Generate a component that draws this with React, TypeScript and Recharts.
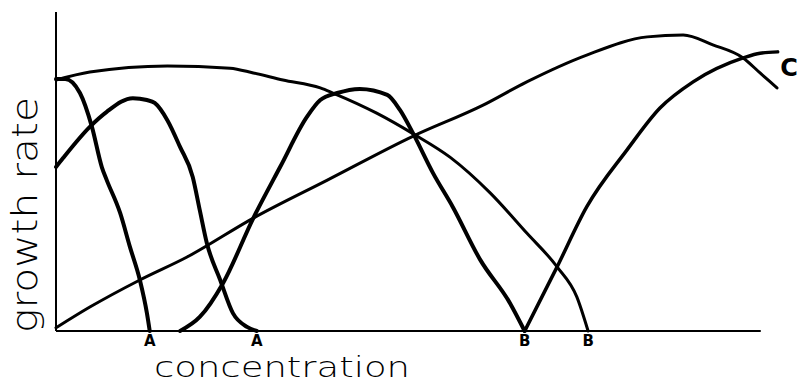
import { LineChart, Line, XAxis, YAxis, ReferenceLine, ReferenceDot, Customized } from 'recharts';

type Pt = { c: number; g: number };

// growth rate (0-100) against concentration (0-100), one array per curve
const curveA1: Pt[] = [
  { c: 0, g: 79 }, { c: 1.3, g: 79 }, { c: 3.4, g: 74.6 }, { c: 5.1, g: 64 },
  { c: 6.5, g: 51.4 }, { c: 7.2, g: 47.3 }, { c: 9.1, g: 37 }, { c: 10.5, g: 26.3 },
  { c: 11.9, g: 16 }, { c: 12.9, g: 5.6 }, { c: 13.3, g: 0 },
];

const curveA2: Pt[] = [
  { c: 0, g: 51.4 }, { c: 1, g: 54.2 }, { c: 4.8, g: 64 }, { c: 7.2, g: 68.7 },
  { c: 10.9, g: 73 }, { c: 12.9, g: 72.4 }, { c: 14, g: 71.5 }, { c: 15.8, g: 66.1 },
  { c: 17.6, g: 57.7 }, { c: 19.4, g: 48.3 }, { c: 20.4, g: 37.9 }, { c: 21.4, g: 27.6 },
  { c: 23.3, g: 16 }, { c: 25.1, g: 5.6 }, { c: 27.1, g: 1.3 }, { c: 28.5, g: 0 },
];

const curveB1: Pt[] = [
  { c: 17.6, g: 0 }, { c: 20.4, g: 4.4 }, { c: 23.7, g: 15 }, { c: 28, g: 35.4 },
  { c: 31.8, g: 51.4 }, { c: 35.6, g: 67.1 }, { c: 37.5, g: 72.4 }, { c: 39.9, g: 74.6 },
  { c: 43.1, g: 75.9 }, { c: 47, g: 74 }, { c: 48.8, g: 69.3 }, { c: 50.7, g: 61.8 },
  { c: 53.5, g: 49.5 }, { c: 56.3, g: 38.9 }, { c: 60.2, g: 22.3 }, { c: 64.4, g: 8.8 },
  { c: 66.5, g: 0 },
];

const curveB2: Pt[] = [
  { c: 0, g: 78.7 }, { c: 4.8, g: 81.2 }, { c: 15.8, g: 83.1 }, { c: 24.7, g: 82.4 },
  { c: 28, g: 80.9 }, { c: 32.2, g: 78.7 }, { c: 37.5, g: 76.2 }, { c: 39.3, g: 74.6 },
  { c: 45.5, g: 68.3 }, { c: 50.7, g: 61.8 }, { c: 55.9, g: 54.5 }, { c: 61.6, g: 43.3 },
  { c: 66.8, g: 30.7 }, { c: 71.1, g: 20.1 }, { c: 73.9, g: 10.7 }, { c: 75.5, g: 0 },
];

const curveC1: Pt[] = [
  { c: 0, g: 1 }, { c: 4.8, g: 7.5 }, { c: 11.9, g: 16 }, { c: 18.6, g: 23.2 },
  { c: 28, g: 35.4 }, { c: 38.5, g: 47.3 }, { c: 50.7, g: 61.1 }, { c: 60.6, g: 70.8 },
  { c: 66.8, g: 78.1 }, { c: 75.3, g: 86.5 }, { c: 83.9, g: 92.2 }, { c: 89, g: 92.8 },
  { c: 93.2, g: 89.7 }, { c: 97.5, g: 85.6 }, { c: 99.9, g: 80.9 }, { c: 102.3, g: 76.2 },
];

const curveC2: Pt[] = [
  { c: 66.5, g: 0 }, { c: 71.1, g: 20.1 }, { c: 75.3, g: 38.9 }, { c: 81, g: 56.7 },
  { c: 85.7, g: 69.9 }, { c: 90.4, g: 78.1 }, { c: 97.5, g: 85.6 }, { c: 99.9, g: 87.1 },
  { c: 102.4, g: 87.5 },
];

// curves that end on the axis get a letter under their end point
const endLabels = [
  { curve: curveA1, text: 'A' },
  { curve: curveA2, text: 'A' },
  { curve: curveB1, text: 'B' },
  { curve: curveB2, text: 'B' },
];

const series = [
  { name: 'A1', data: curveA1, width: 4 },
  { name: 'A2', data: curveA2, width: 4 },
  { name: 'B1', data: curveB1, width: 4 },
  { name: 'B2', data: curveB2, width: 3 },
  { name: 'C1', data: curveC1, width: 3 },
  { name: 'C2', data: curveC2, width: 3.5 },
];

const font = '"DejaVu Sans", sans-serif';

const letter = (text: string) => (props: any) => {
  const { x, y } = props.viewBox;
  return (
    <text x={x} y={y + 15} textAnchor="middle" fontFamily={font} fontWeight={700} fontSize={15} fill="#000">
      {text}
    </text>
  );
};

const Titles = () => (
  <g fill="#000" fontFamily={font}>
    <text x={154} y={377} fontSize={29} fontWeight={300} textLength={256} lengthAdjust="spacingAndGlyphs">
      concentration
    </text>
    <text
      x={37}
      y={215}
      fontSize={36}
      fontWeight={300}
      textAnchor="middle"
      transform="rotate(-90, 37, 215)"
      textLength={236}
      lengthAdjust="spacingAndGlyphs"
    >
      growth rate
    </text>
    <text x={789} y={76} fontSize={24} fontWeight={700} textAnchor="middle">
      C
    </text>
  </g>
);

export default function App() {
  return (
    <div style={{ position: 'absolute', left: 0, top: 0, background: '#fff' }}>
      <LineChart width={797} height={384} margin={{ top: 12, right: 1, bottom: 53, left: 56 }}>
        <XAxis type="number" dataKey="c" domain={[0, 105]} hide />
        <YAxis type="number" dataKey="g" domain={[0, 100]} hide />
        <ReferenceLine segment={[{ x: 0, y: 0 }, { x: 0, y: 100 }]} stroke="#000" strokeWidth={2} />
        <ReferenceLine segment={[{ x: 0, y: 0 }, { x: 100, y: 0 }]} stroke="#000" strokeWidth={2} />
        {series.map((s) => (
          <Line
            key={s.name}
            data={s.data}
            dataKey="g"
            type="monotone"
            stroke="#000"
            strokeWidth={s.width}
            strokeLinecap="round"
            dot={false}
            activeDot={false}
            isAnimationActive={false}
          />
        ))}
        {endLabels.map((l, i) => {
          const end = l.curve[l.curve.length - 1];
          return (
            <ReferenceDot
              key={i}
              x={end.c}
              y={end.g}
              r={0}
              fill="none"
              stroke="none"
              label={letter(l.text)}
            />
          );
        })}
        <Customized component={Titles} />
      </LineChart>
    </div>
  );
}
